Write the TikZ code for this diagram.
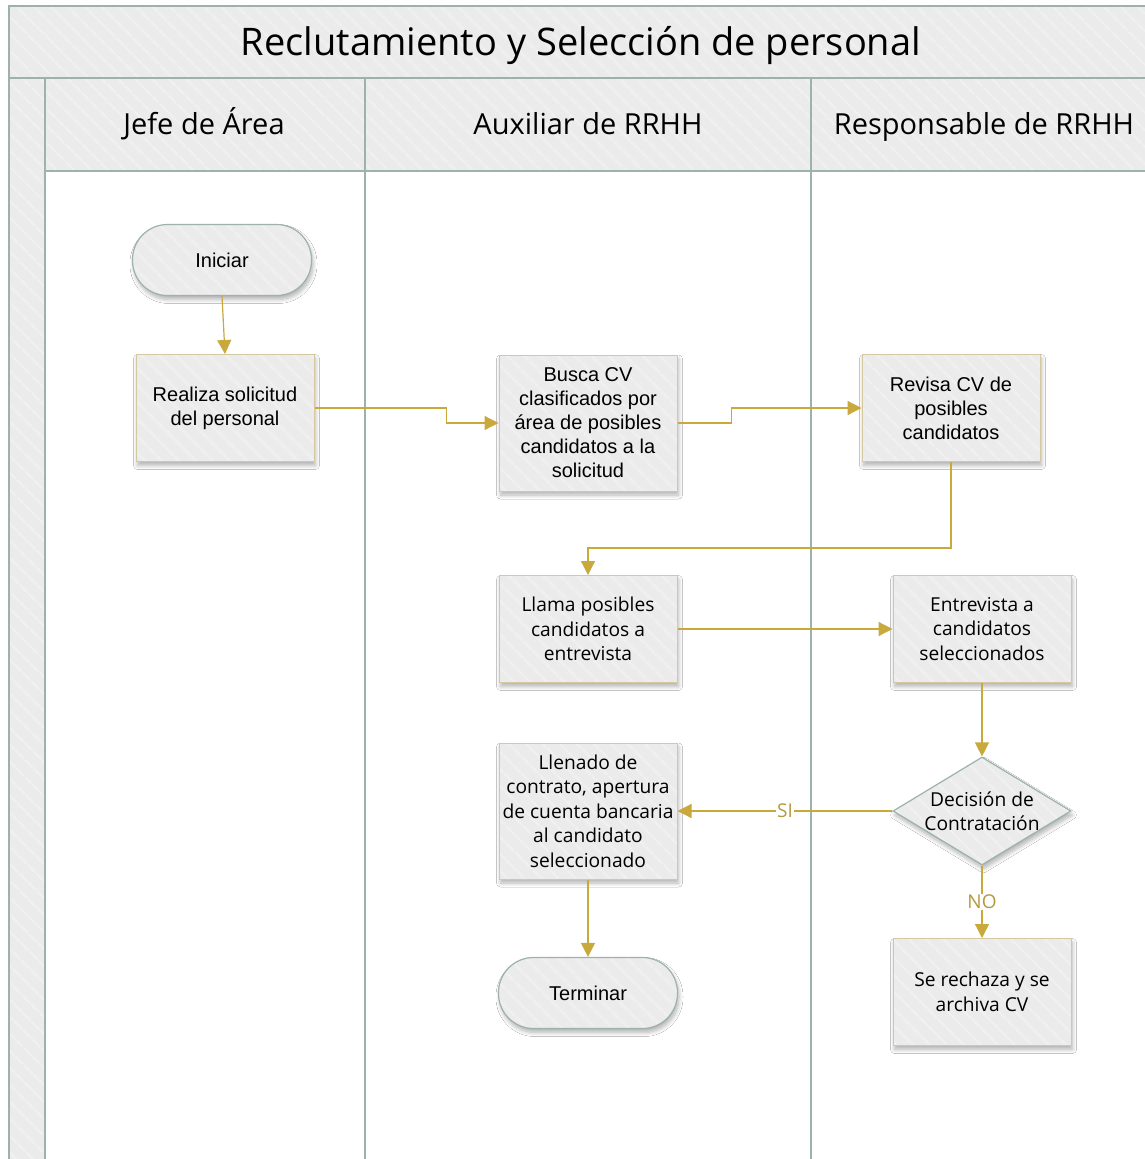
\documentclass[tikz,border=0pt]{standalone}
\usepackage{fontspec}
\setmainfont{Liberation Sans}
\newfontfamily\segoe{Open Sans}
\usetikzlibrary{arrows.meta,shapes.geometric,shadows.blur,patterns.meta}

\definecolor{laneline}{HTML}{9CB2AB}
\definecolor{panel}{HTML}{EBEBEB}
\definecolor{stripe}{HTML}{F0F0F0}
\definecolor{boxedge}{HTML}{D3C8A0}
\definecolor{flowgold}{HTML}{C9A83C}
\definecolor{labelgold}{HTML}{B39A3E}

\tikzset{
  x=1pt, y=-1pt,
  striped/.style={preaction={fill=panel},
    pattern={Lines[angle=-45,distance=13pt,line width=3pt]}, pattern color=stripe},
  lanebox/.style={striped, draw=laneline, line width=1.6pt},
  laneedge/.style={draw=laneline, line width=1.6pt},
  softshadow/.style={blur shadow={shadow xshift=1.5pt, shadow yshift=-4pt,
    shadow blur radius=4pt, shadow blur steps=8, shadow opacity=30}},
  stepbox/.style={rectangle, softshadow, striped, draw=boxedge, line width=1pt,
    minimum width=178pt, minimum height=107pt, align=center, inner sep=2pt,
    font=\fontsize{20}{24}\selectfont},
  segbox/.style={stepbox, font=\segoe\fontsize{19.2}{24.5}\selectfont},
  terminal/.style={rectangle, rounded corners=35pt, softshadow, striped,
    draw=laneline, line width=1.2pt, minimum width=179pt, minimum height=71pt,
    font=\fontsize{20}{24}\selectfont},
  decision/.style={diamond, softshadow, striped, draw=laneline, line width=1.2pt,
    minimum width=178pt, minimum height=108pt, inner sep=0pt},
  flow/.style={draw=flowgold, line width=1.2pt,
    -{Triangle[length=14pt,width=14pt]}},
  lbl/.style={text=labelgold, fill=white, inner sep=1pt,
    font=\segoe\fontsize{19}{22}\selectfont},
  header/.style={anchor=base, font=\segoe\fontsize{29}{34}\selectfont},
}

\begin{document}
\begin{tikzpicture}
\useasboundingbox (0,0) rectangle (1145,1159);
\clip (0,0) rectangle (1145,1159);
\fill[white] (0,0) rectangle (1145,1159);

% pool frame: title band and left strip
\path[lanebox] (9,6) rectangle (1170,78);
\path[lanebox] (9,78) rectangle (45,1175);

% lane headers
\path[lanebox] (45,78) rectangle (365,171);
\path[lanebox] (365,78) rectangle (811,171);
\path[lanebox] (811,78) rectangle (1170,171);

% lane separators
\draw[laneedge] (365,171) -- (365,1175);
\draw[laneedge] (811,171) -- (811,1175);
\draw[laneedge] (45,171) -- (1170,171);

% titles
\node[anchor=base, font=\segoe\fontsize{38}{44}\selectfont] (title) at (581,55) {Reclutamiento y Selección de personal};
\node[header] (h1) at (204,134) {Jefe de Área};
\node[header] (h2) at (588,134) {Auxiliar de RRHH};
\node[header] (h3) at (984,134) {Responsable de RRHH};

% process steps
\node[terminal] (ini) at (222,260) {Iniciar};
\node[stepbox] (rea) at (225,408) {Realiza solicitud\\del personal};
\node[stepbox, minimum height=136pt] (bus) at (588,423) {Busca CV\\clasificados por\\área de posibles\\candidatos a la\\solicitud};
\node[stepbox] (rev) at (951,408) {Revisa CV de\\posibles\\candidatos};
\node[segbox] (lla) at (588,629) {Llama posibles\\candidatos a\\entrevista};
\node[segbox] (ent) at (982,629) {Entrevista a\\candidatos\\seleccionados};
\node[decision, label={[font=\segoe\fontsize{19.2}{24.5}\selectfont, align=center]center:Decisión de\\Contratación}] (dec) at (982,811) {};
\node[segbox, minimum height=136pt] (lle) at (588,811) {Llenado de\\contrato, apertura\\de cuenta bancaria\\al candidato\\seleccionado};
\node[terminal] (ter) at (588,993) {Terminar};
\node[segbox] (rec) at (982,992) {Se rechaza y se\\archiva CV};

% connectors
\draw[flow] (ini.south) -- (rea.north);
\draw[flow] (rea.east) -- ++(132,0) |- (bus.west);
\draw[flow] (bus.east) -- ++(54,0) |- (rev.west);
\draw[flow] (rev.south) -- (rev.south |- 0,548) -| (lla.north);
\draw[flow] (lla.east) -- (ent.west);
\draw[flow] (ent.south) -- (dec.north);
\draw[flow] (dec.west) -- node[lbl] (si) {SI} (lle.east);
\draw[flow] (dec.south) -- node[lbl] (no) {NO} (rec.north);
\draw[flow] (lle.south) -- (ter.north);
\end{tikzpicture}
\end{document}
